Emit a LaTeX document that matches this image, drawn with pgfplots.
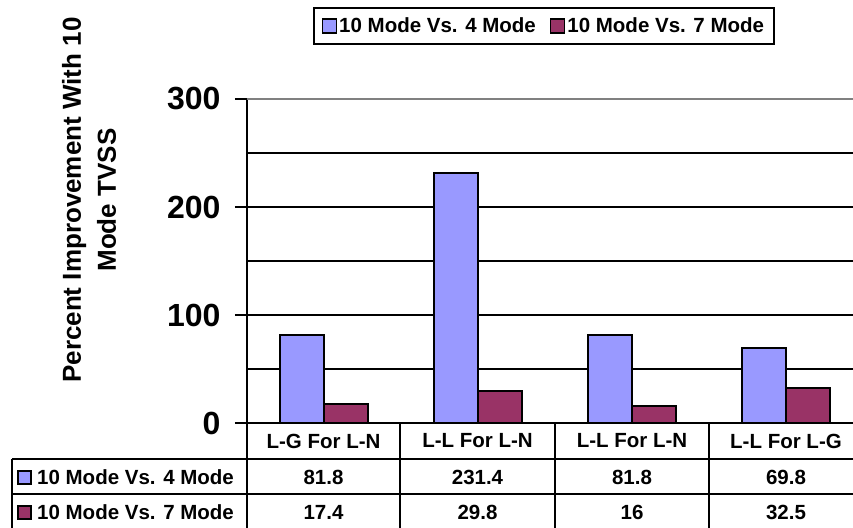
\documentclass[border=0pt]{standalone}
\usepackage{fontspec}
\setmainfont{Liberation Sans}
\usepackage{pgfplots}
\pgfplotsset{compat=1.18}
\definecolor{cblue}{HTML}{9999FF}
\definecolor{cmaroon}{HTML}{993366}
\newcommand{\tabfont}{\fontsize{20.5}{24}\selectfont\bfseries}
\begin{document}
\begin{tikzpicture}[x=1pt,y=1pt]
\begin{axis}[
  at={(0pt,0pt)}, anchor=south west,
  scale only axis, width=616pt, height=324pt,
  xmin=-0.5, xmax=3.5, ymin=0, ymax=300,
  enlargelimits=false,
  axis x line*=bottom, axis y line*=left,
  xtick=\empty,
  ytick={0,100,200,300}, minor ytick={50,150,250},
  ymajorgrids, yminorgrids,
  major grid style={black, line width=2pt},
  minor grid style={black, line width=2pt},
  tick align=outside, major tick length=12pt, minor tick length=0pt,
  tick style={black, line width=2pt},
  axis line style={black, line width=2pt},
  /pgf/number format/assume math mode=true,
  yticklabel style={font=\fontsize{32}{34}\selectfont\bfseries, xshift=-11pt},
  ylabel={Percent Improvement With 10\\Mode TVSS},
  ylabel style={at={(axis description cs:-0.2565,0.688)}, anchor=center, align=center, font=\fontsize{26}{35}\selectfont\bfseries},
  ybar, bar width=44pt,
  legend style={at={(axis description cs:0.482,1.225)}, anchor=center, draw=black, line width=2pt,
    font=\tabfont, legend columns=2,
    /tikz/every even column/.append style={column sep=12pt},
    inner xsep=8pt, inner ysep=8pt},
  legend cell align=left,
]
\addplot[fill=cblue, draw=black, line width=2pt, bar shift=-22pt,
  legend image code/.code={\draw[fill=cblue, draw=black, line width=1.5pt] (0pt,-7pt) rectangle (14pt,7pt);}]
  coordinates {(0,81.8) (1,231.4) (2,81.8) (3,69.8)};
\addlegendentry{10 Mode Vs. 4 Mode}
\addplot[fill=cmaroon, draw=black, line width=2pt, bar shift=22pt,
  legend image code/.code={\draw[fill=cmaroon, draw=black, line width=1.5pt] (0pt,-7pt) rectangle (14pt,7pt);}]
  coordinates {(0,17.4) (1,29.8) (2,16) (3,32.5)};
\addlegendentry{10 Mode Vs. 7 Mode}
\draw[gray, line width=2pt] (axis cs:-0.5,300) -- (axis cs:3.5,300);
\end{axis}
% data table
\begin{scope}[line width=2pt]
\draw (0,0) -- (0,-110);
\draw (153,0) -- (153,-110);
\draw (308,0) -- (308,-110);
\draw (462,0) -- (462,-110);
\draw (-235,-36) -- (616,-36);
\draw (-235,-71) -- (616,-71);
\draw (-235,-36) -- (-235,-110);
\end{scope}
\begin{scope}[every node/.style={font=\tabfont, inner sep=0pt}]
\node at (76.5,-18) {L-G For L-N};
\node at (230.5,-18) {L-L For L-N};
\node at (385,-18) {L-L For L-N};
\node at (539,-18) {L-L For L-G};
\node at (76.5,-54) {81.8};
\node at (230.5,-54) {231.4};
\node at (385,-54) {81.8};
\node at (539,-54) {69.8};
\node at (76.5,-89) {17.4};
\node at (230.5,-89) {29.8};
\node at (385,-89) {16};
\node at (539,-89) {32.5};
\draw[fill=cblue, line width=1.5pt] (-229,-61) rectangle (-216,-48);
\draw[fill=cmaroon, line width=1.5pt] (-229,-96) rectangle (-216,-83);
\node[anchor=west] at (-210,-54) {10 Mode Vs. 4 Mode};
\node[anchor=west] at (-210,-89) {10 Mode Vs. 7 Mode};
\end{scope}
\pgfresetboundingbox
\path (-247,-104) rectangle (606,423);
\end{tikzpicture}
\end{document}
